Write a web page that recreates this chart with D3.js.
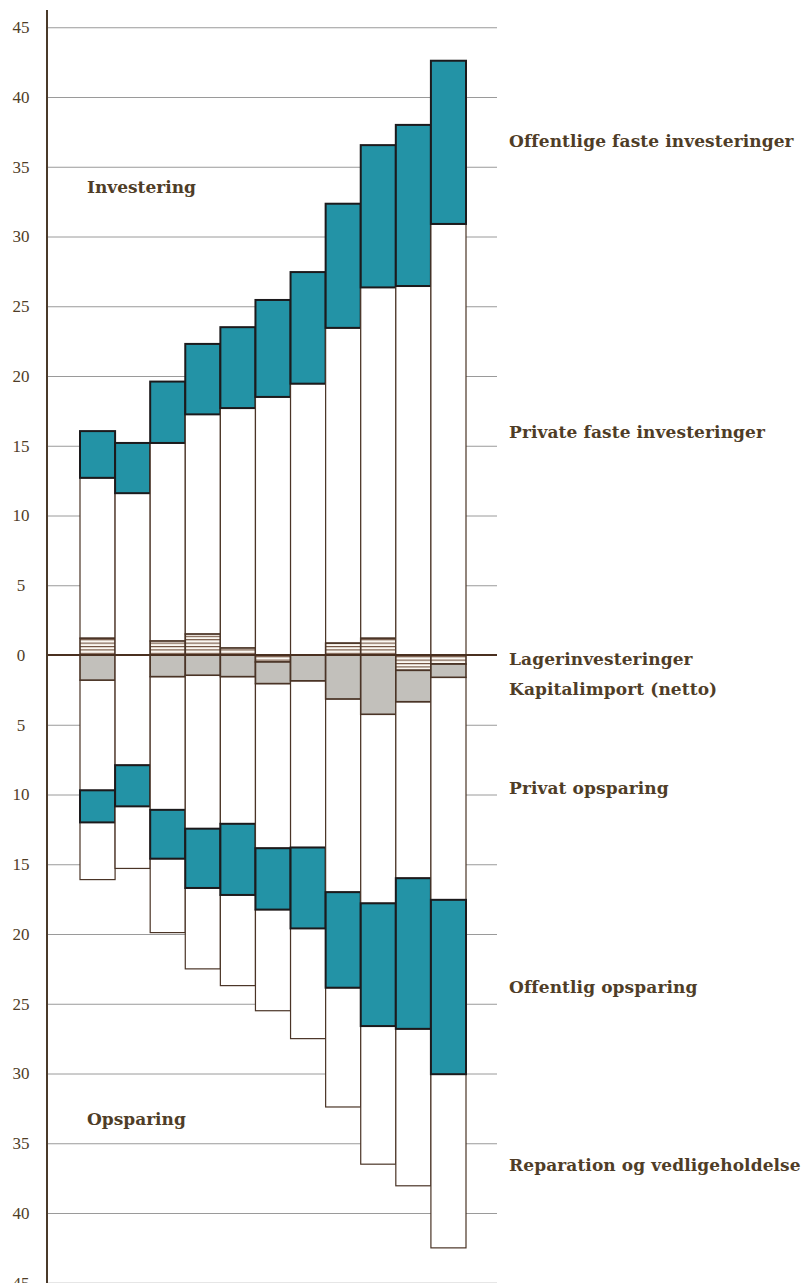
<!DOCTYPE html>
<html><head><meta charset="utf-8">
<script src="https://cdn.jsdelivr.net/npm/d3@7"></script>
<style>
html,body{margin:0;padding:0;background:#fff;}
svg{display:block;}
</style></head>
<body>
<svg id="chart" width="807" height="1283"></svg>
<script>
// ---- data (values in the chart's units; savings drawn below zero) ----
const bars = ["1","2","3","4","5","6","7","8","9","10","11"];
const lagerinvesteringer   = [1.2, 0, 1.0, 1.5, 0.5, -0.5, 0, 0.85, 1.2, -1.1, -0.65];
const privateFaste         = [11.5, 11.6, 14.2, 15.75, 17.2, 18.5, 19.45, 22.6, 25.15, 26.45, 30.9];
const offentligeFaste      = [3.35, 3.6, 4.4, 5.05, 5.8, 6.95, 8.0, 8.9, 10.2, 11.55, 11.7];
const kapitalimport        = [1.8, 0, 1.55, 1.45, 1.55, 1.55, 1.85, 3.15, 4.25, 2.25, 0.95];
const privatOpsparing      = [7.9, 7.9, 9.55, 11.0, 10.55, 11.8, 11.95, 13.85, 13.55, 12.65, 15.95];
const offentligOpsparing   = [2.3, 2.95, 3.5, 4.25, 5.1, 4.4, 5.8, 6.85, 8.8, 10.8, 12.5];
const reparation           = [4.1, 4.45, 5.3, 5.8, 6.5, 7.25, 7.9, 8.55, 9.9, 11.25, 12.45];
const tickValues = [45,40,35,30,25,20,15,10,5,0,-5,-10,-15,-20,-25,-30,-35,-40,-45];
const seriesLabels = ["Offentlige faste investeringer","Private faste investeringer","Lagerinvesteringer",
  "Kapitalimport (netto)","Privat opsparing","Offentlig opsparing","Reparation og vedligeholdelse"];
const sideLabels = ["Investering","Opsparing"];

// ---- drawing ----
const svg = d3.select("#chart");
const y = d3.scaleLinear().domain([45,-45]).range([27.25,1282.75]);
const x = d3.scaleBand().domain(bars).range([80,466]).padding(0);
const axisX = 47, gridEnd = 497;
const brown = "#4f3d27";
const textFont = "'DejaVu Serif', serif";

const defs = svg.append("defs");
const pat = defs.append("pattern").attr("id","stripes").attr("patternUnits","userSpaceOnUse")
  .attr("width",6).attr("height",3.4);
pat.append("rect").attr("width",6).attr("height",3.4).attr("fill","#fbf8f2");
pat.append("rect").attr("y",0).attr("width",6).attr("height",1.1).attr("fill","#6b4a38");

// gridlines
svg.append("g").attr("transform",`translate(${axisX},0)`)
  .call(d3.axisRight(y).tickValues(tickValues).tickSize(gridEnd-axisX).tickFormat(""))
  .call(g=>g.select(".domain").remove())
  .call(g=>g.selectAll("line").attr("stroke","#9a9a9a").attr("stroke-width",1));

// tick labels
svg.append("g").attr("transform",`translate(${axisX},0)`)
  .call(d3.axisLeft(y).tickValues(tickValues).tickSize(0).tickFormat(d=>Math.abs(d)))
  .call(g=>g.select(".domain").remove())
  .call(g=>g.selectAll("text").attr("x",-26).attr("text-anchor","middle")
     .attr("fill",brown).style("font-family","'Liberation Serif', serif").style("font-size","17px"));

// bars
const fills = {lager:"url(#stripes)", pf:"#ffffff", of:"#2393a6", kap:"#c2c0bb", po:"#ffffff", oo:"#2393a6", rep:"#ffffff"};
bars.forEach((b,i)=>{
  const segs = [];
  let top = 0;
  if (lagerinvesteringer[i] > 0) { segs.push({k:"lager", a:0, b:lagerinvesteringer[i]}); top = lagerinvesteringer[i]; }
  segs.push({k:"pf", a:top, b:top+privateFaste[i]}); top += privateFaste[i];
  segs.push({k:"of", a:top, b:top+offentligeFaste[i]});
  let bot = 0;
  if (lagerinvesteringer[i] < 0) { segs.push({k:"lager", a:0, b:lagerinvesteringer[i]}); bot = lagerinvesteringer[i]; }
  if (kapitalimport[i] > 0) { segs.push({k:"kap", a:bot, b:bot-kapitalimport[i]}); bot -= kapitalimport[i]; }
  segs.push({k:"po", a:bot, b:bot-privatOpsparing[i]}); bot -= privatOpsparing[i];
  segs.push({k:"oo", a:bot, b:bot-offentligOpsparing[i]}); bot -= offentligOpsparing[i];
  segs.push({k:"rep", a:bot, b:bot-reparation[i]});
  const order = ["pf","po","rep","lager","kap","of","oo"];
  segs.sort((p,q)=>order.indexOf(p.k)-order.indexOf(q.k));
  const g = svg.append("g");
  g.selectAll("rect").data(segs).join("rect")
    .attr("x", x(b)).attr("width", x.bandwidth())
    .attr("y", d=>Math.min(y(d.a),y(d.b))).attr("height", d=>Math.abs(y(d.a)-y(d.b)))
    .attr("fill", d=>fills[d.k])
    .attr("stroke", d=>(d.k==="of"||d.k==="oo")?"#1c1a1c":"#4a3426")
    .attr("stroke-width", d=>(d.k==="of"||d.k==="oo")?2:(d.k==="kap"||d.k==="lager")?1.6:1.2);
});

// zero line
svg.append("line").attr("x1",axisX).attr("x2",gridEnd).attr("y1",y(0)).attr("y2",y(0))
  .attr("stroke","#4a3020").attr("stroke-width",2);
// axis line
svg.append("line").attr("x1",axisX).attr("x2",axisX).attr("y1",10).attr("y2",1283)
  .attr("stroke","#4a3a2a").attr("stroke-width",2);

// series labels (right)
const labelY = [36.85, 15.95, -0.3, -2.45, -9.55, -23.8, -36.55];
svg.append("g").selectAll("text").data(seriesLabels).join("text")
  .attr("x",509).attr("y",(d,i)=>y(labelY[i])).attr("dy","0.35em")
  .attr("fill",brown).style("font-family",textFont).style("font-weight","bold").style("font-size","17px")
  .style("letter-spacing","0.1px")
  .text(d=>d);
const sideY = [33.55, -33.3];
svg.append("g").selectAll("text").data(sideLabels).join("text")
  .attr("x",87).attr("y",(d,i)=>y(sideY[i])).attr("dy","0.35em")
  .attr("fill",brown).style("font-family",textFont).style("font-weight","bold").style("font-size","17px")
  .text(d=>d);
</script>
</body></html>
